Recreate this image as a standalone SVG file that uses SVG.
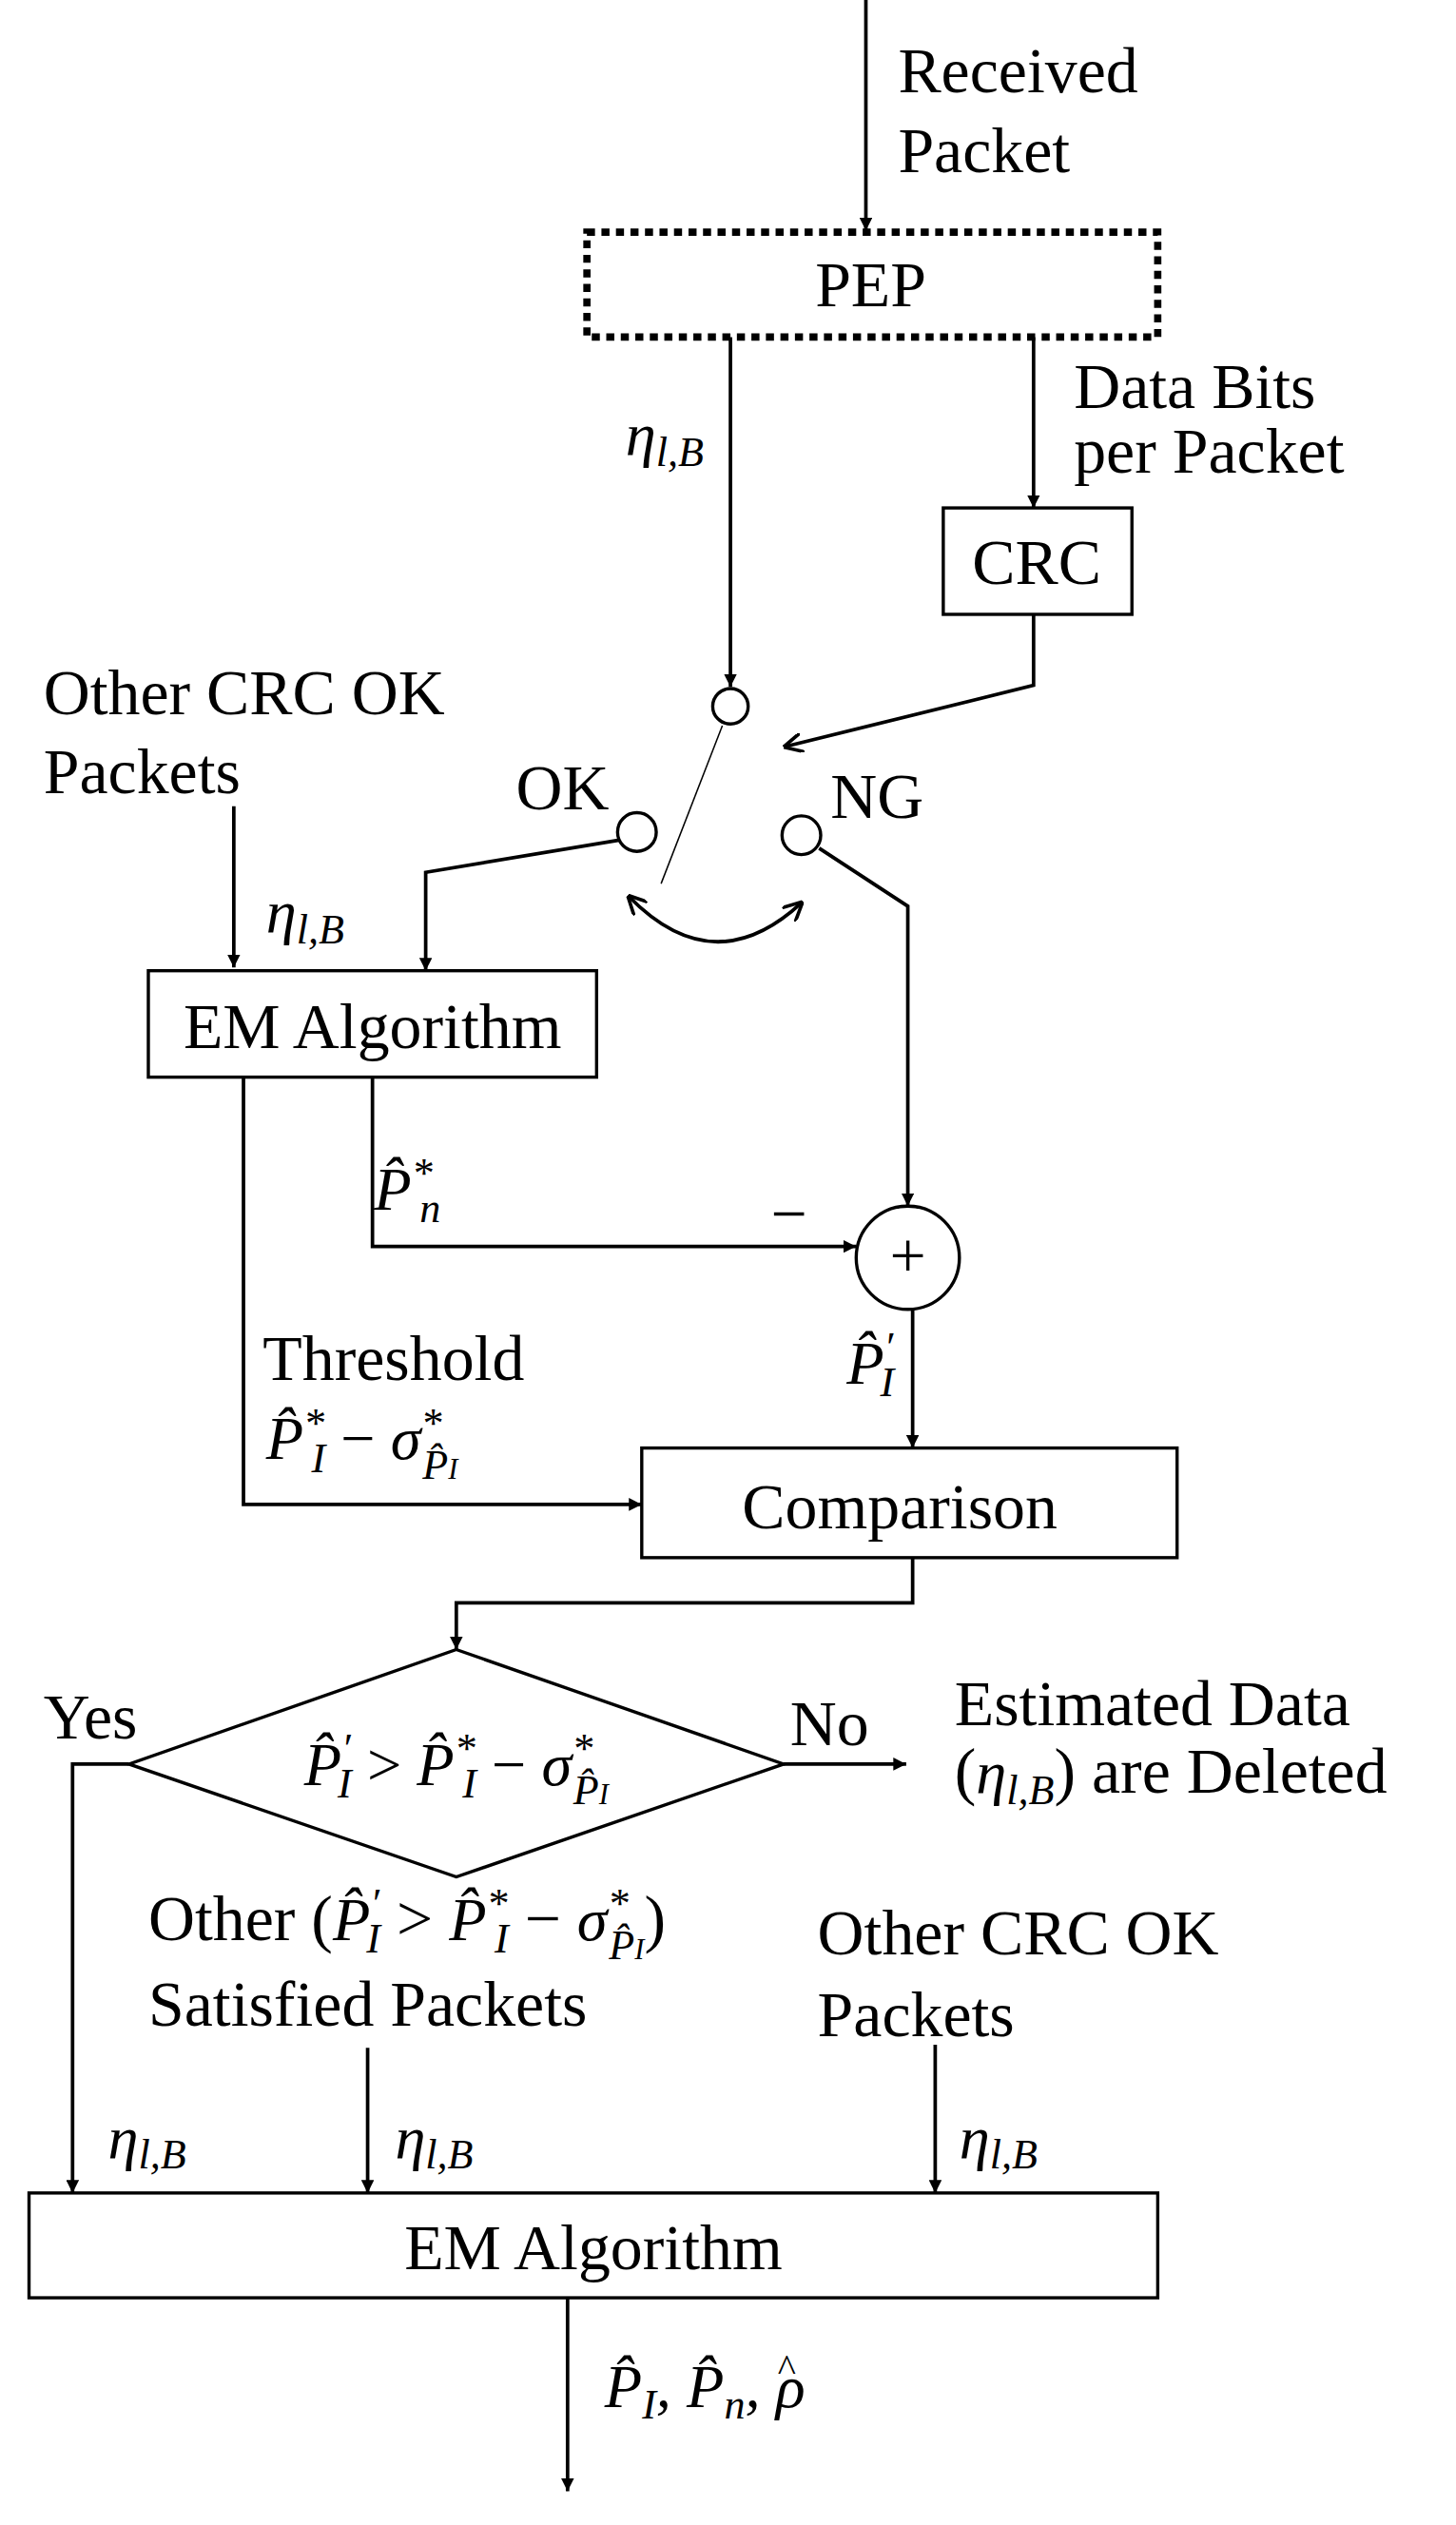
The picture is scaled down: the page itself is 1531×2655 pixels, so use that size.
<svg xmlns="http://www.w3.org/2000/svg" width="1531" height="2655" viewBox="0 0 1531 2655">
<defs>
<style>
.t{font-family:"Liberation Serif",serif;font-size:40px;fill:#000}
.m{font-family:"Liberation Serif",serif;font-style:italic;font-size:38px;fill:#000}
.s{font-size:26px}
.b{fill:#fff;stroke:#000;stroke-width:2}
.l{fill:none;stroke:#000;stroke-width:2.2}
</style>
<marker id="a" viewBox="0 0 10 10" refX="10" refY="5" markerWidth="8" markerHeight="8" orient="auto" markerUnits="userSpaceOnUse"><path d="M0,0L10,5L0,10z" fill="#000"/></marker>
<marker id="o" viewBox="0 0 10 10" refX="9" refY="5" markerWidth="12" markerHeight="12" orient="auto-start-reverse" markerUnits="userSpaceOnUse"><path d="M0,0L10,5L0,10" fill="none" stroke="#000" stroke-width="1.8"/></marker>
</defs>
<rect width="1531" height="2655" fill="#fff"/>
<g transform="scale(1.6955)">
<g id="connectors">
<path class="l" d="M537,0V143" marker-end="url(#a)"/>
<path class="l" d="M453,209V426" marker-end="url(#a)"/>
<path class="l" d="M641,209V315" marker-end="url(#a)"/>
<path class="l" d="M641,381V425L487,463" marker-end="url(#o)"/>
<path d="M448,450L410,548" stroke="#000" stroke-width="0.9"/>
<path class="l" d="M390,556Q443,610 497,560" marker-start="url(#o)" marker-end="url(#o)"/>
<path class="l" d="M384,521L264,541V602" marker-end="url(#a)"/>
<path class="l" d="M145,500V600" marker-end="url(#a)"/>
<path class="l" d="M508,526L563,562V748" marker-end="url(#a)"/>
<path class="l" d="M231,668V773H531" marker-end="url(#a)"/>
<path class="l" d="M151,668V933H398" marker-end="url(#a)"/>
<path class="l" d="M566,812V898" marker-end="url(#a)"/>
<path class="l" d="M566,966V994H283V1023" marker-end="url(#a)"/>
<path class="l" d="M80,1094H45V1360" marker-end="url(#a)"/>
<path class="l" d="M486,1094H562" marker-end="url(#a)"/>
<path class="l" d="M228,1270V1360" marker-end="url(#a)"/>
<path class="l" d="M580,1268V1360" marker-end="url(#a)"/>
<path class="l" d="M352,1425V1545" marker-end="url(#a)"/>
</g>
<g id="pep"><rect x="364" y="144" width="354" height="65" fill="#fff" stroke="#000" stroke-width="4.5" stroke-dasharray="5,4"/><text class="t" x="540" y="190" text-anchor="middle">PEP</text></g>
<g id="crc"><rect class="b" x="585" y="315" width="117" height="66"/><text class="t" x="643" y="362" text-anchor="middle">CRC</text></g>
<g id="sw-in"><circle class="b" cx="453" cy="438" r="11"/></g>
<g id="sw-ok"><circle class="b" cx="395" cy="516" r="12"/></g>
<g id="sw-ng"><circle class="b" cx="497" cy="518" r="12"/></g>
<g id="em1"><rect class="b" x="92" y="602" width="278" height="66"/><text class="t" x="231" y="650" text-anchor="middle">EM Algorithm</text></g>
<g id="sum"><circle class="b" cx="563" cy="780" r="32"/><text class="t" x="563" y="792" text-anchor="middle" font-size="30">+</text></g>
<g id="cmp"><rect class="b" x="398" y="898" width="332" height="68"/><text class="t" x="558" y="948" text-anchor="middle">Comparison</text></g>
<g id="dec"><path class="b" d="M283,1023L486,1094L283,1164L80,1094z"/>
<text class="m" x="283" y="1107" text-anchor="middle">P̂<tspan class="s" dy="-14">′</tspan><tspan class="s" dx="-8" dy="22">I</tspan><tspan dy="-8" font-style="normal"> &gt; </tspan>P̂<tspan class="s" dy="-14">*</tspan><tspan class="s" dx="-8" dy="22">I</tspan><tspan dy="-8" font-style="normal"> − </tspan>σ<tspan class="s" dy="-14">*</tspan><tspan class="s" dx="-12" dy="26">P̂<tspan font-size="18">I</tspan></tspan></text></g>
<g id="em2"><rect class="b" x="18" y="1360" width="700" height="65"/><text class="t" x="368" y="1407" text-anchor="middle">EM Algorithm</text></g>
<g id="labels">
<text class="t" x="557" y="57">Received</text><text class="t" x="557" y="107">Packet</text>
<text class="t" x="666" y="253">Data Bits</text><text class="t" x="666" y="293">per Packet</text>
<text class="m" x="388" y="282">η<tspan class="s" dy="7">l,B</tspan></text>
<text class="t" x="27" y="443">Other CRC OK</text><text class="t" x="27" y="492">Packets</text>
<text class="t" x="320" y="502">OK</text><text class="t" x="515" y="507">NG</text>
<text class="m" x="165" y="578">η<tspan class="s" dy="7">l,B</tspan></text>
<text class="m" x="232" y="750">P̂<tspan class="s" dy="-14">*</tspan><tspan class="s" dx="-8" dy="22">n</tspan></text>
<text class="t" x="478" y="766">−</text>
<text class="t" x="163" y="856">Threshold</text>
<text class="m" x="165" y="905">P̂<tspan class="s" dy="-14">*</tspan><tspan class="s" dx="-8" dy="22">I</tspan><tspan dy="-8" font-style="normal"> − </tspan>σ<tspan class="s" dy="-14">*</tspan><tspan class="s" dx="-12" dy="26">P̂<tspan font-size="18">I</tspan></tspan></text>
<text class="m" x="525" y="858">P̂<tspan class="s" dy="-14">′</tspan><tspan class="s" dx="-8" dy="22">I</tspan></text>
<text class="t" x="27" y="1078">Yes</text>
<text class="t" x="490" y="1082">No</text>
<text class="t" x="592" y="1070">Estimated Data</text>
<text class="t" x="592" y="1112">(<tspan class="m">η<tspan class="s" dy="7">l,B</tspan></tspan><tspan dy="-7">) are Deleted</tspan></text>
<text class="t" x="92" y="1203">Other (<tspan class="m">P̂<tspan class="s" dy="-14">′</tspan><tspan class="s" dx="-8" dy="22">I</tspan></tspan><tspan dy="-8"> &gt; </tspan><tspan class="m">P̂<tspan class="s" dy="-14">*</tspan><tspan class="s" dx="-8" dy="22">I</tspan></tspan><tspan dy="-8"> − </tspan><tspan class="m">σ<tspan class="s" dy="-14">*</tspan><tspan class="s" dx="-12" dy="26">P̂<tspan font-size="18">I</tspan></tspan></tspan><tspan dy="-12">)</tspan></text>
<text class="t" x="92" y="1256">Satisfied Packets</text>
<text class="t" x="507" y="1212">Other CRC OK</text><text class="t" x="507" y="1263">Packets</text>
<text class="m" x="67" y="1338">η<tspan class="s" dy="7">l,B</tspan></text>
<text class="m" x="245" y="1338">η<tspan class="s" dy="7">l,B</tspan></text>
<text class="m" x="595" y="1338">η<tspan class="s" dy="7">l,B</tspan></text>
<text class="m" x="375" y="1493">P̂<tspan class="s" dy="7">I</tspan><tspan dy="-7">, P̂</tspan><tspan class="s" dy="7">n</tspan><tspan dy="-7">, ρ</tspan><tspan font-style="normal" font-size="24" dx="-17" dy="-16">^</tspan></text>
</g>
</g>
</svg>
